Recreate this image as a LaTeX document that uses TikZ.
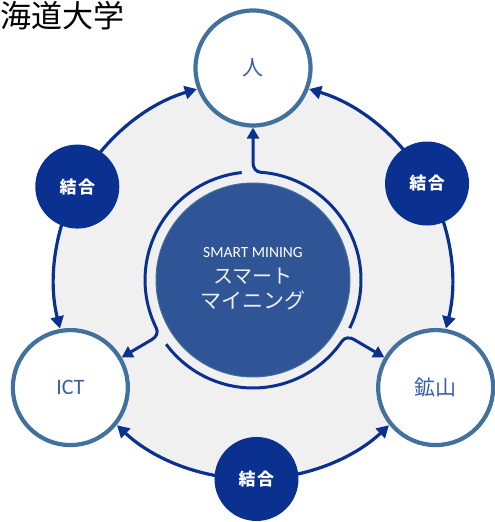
\documentclass[tikz,border=0pt]{standalone}
\usepackage{fontspec}
\setmainfont{Carlito}
\newfontfamily\cjk{Noto Sans CJK JP}
\usetikzlibrary{arrows.meta,calc}
\definecolor{bgc}{HTML}{F0F0F0}
\definecolor{ringc}{HTML}{0A3090}
\definecolor{nodeline}{HTML}{41719C}
\definecolor{corec}{HTML}{2F5597}
\definecolor{txtc}{HTML}{3A5FA8}
\pgfdeclarelayer{bglayer}
\pgfsetlayers{bglayer,main}
\begin{document}
\begin{tikzpicture}[x=1pt,y=1pt,
  outer/.style={circle, draw=nodeline, line width=4.2pt, fill=white, minimum size=115pt, inner sep=0pt, text=txtc},
  joint/.style={circle, fill=ringc, minimum size=84pt, inner sep=0pt, text=white, font=\cjk\bfseries\fontsize{17}{20}\selectfont},
  arcarrow/.style={draw=ringc, line width=3.2pt, -{Triangle[length=12pt,width=13pt]}},
  ringarrow/.style={draw=ringc, line width=3pt, -{Triangle[length=11pt,width=12pt]}}
]
\useasboundingbox (0,0) rectangle (495,522);
\coordinate (C) at (253,242);

% title
\node[anchor=base west, inner sep=0pt, font=\cjk\fontsize{31}{34}\selectfont, text=black] (title) at (0,494) {海道大学};

% outer nodes
\node[outer, font=\cjk\fontsize{21}{24}\selectfont] (hito) at ($(C)+(90:212)$) {人};
\node[outer, font=\fontsize{22}{24}\selectfont] (ict) at ($(C)+(210.5:212)$) {ICT};
\node[outer, font=\cjk\fontsize{21}{24}\selectfont] (kozan) at ($(C)+(329.5:212)$) {鉱山};

% joint nodes
\node[joint] (jl) at ($(C)+(152:199)$) {結\hspace{1.5pt}合};
\node[joint] (jr) at ($(C)+(29:199)$) {結\hspace{1.5pt}合};
\node[joint] (jb) at ($(C)+(271:199)$) {結\hspace{1.5pt}合};

% core
\node[circle, fill=corec, draw=nodeline, line width=1pt, minimum size=194pt, inner sep=0pt] (core) at (C) {};
\node[font=\fontsize{15.5}{17}\selectfont, text=white] (en) at ($(C)+(0,27)$) {SMART MINING};
\node[font=\cjk\fontsize{20}{22}\selectfont, text=white!92!corec] (jp1) at ($(C)+(0,4)$) {スマート};
\node[font=\cjk\fontsize{21}{23}\selectfont, text=white!92!corec] (jp2) at ($(C)+(0,-20)$) {マイニング};

\begin{pgfonlayer}{bglayer}
\fill[bgc] (C) circle (199);
% outer arcs from joint nodes
\draw[arcarrow] (jl.center) arc[start angle=152, end angle=106.4, radius=199];
\draw[arcarrow] (jl.center) arc[start angle=152, end angle=194.1, radius=199];
\draw[arcarrow] (jr.center) arc[start angle=29, end angle=73.6, radius=199];
\draw[arcarrow] (jr.center) arc[start angle=29, end angle=-14.1, radius=199];
\draw[arcarrow] (jb.center) arc[start angle=271, end angle=226.9, radius=199];
\draw[arcarrow] (jb.center) arc[start angle=271, end angle=313.1, radius=199];
\end{pgfonlayer}

% ring around core, branching into arrows
\draw[ringarrow] ($(C)+(-26.5:108)$) arc[start angle=-26.5, end angle=86, radius=108]
  to[out=176, in=270] ($(C)+(90:117)$) -- (hito);
\draw[ringarrow] ($(C)+(96:108)$) arc[start angle=96, end angle=206.5, radius=108]
  to[out=296.5, in=30.5] ($(C)+(210.5:117)$) -- (ict);
\draw[ringarrow] ($(C)+(216.5:108)$) arc[start angle=216.5, end angle=325.5, radius=108]
  to[out=55.5, in=149.5] ($(C)+(329.5:117)$) -- (kozan);
\end{tikzpicture}
\end{document}
